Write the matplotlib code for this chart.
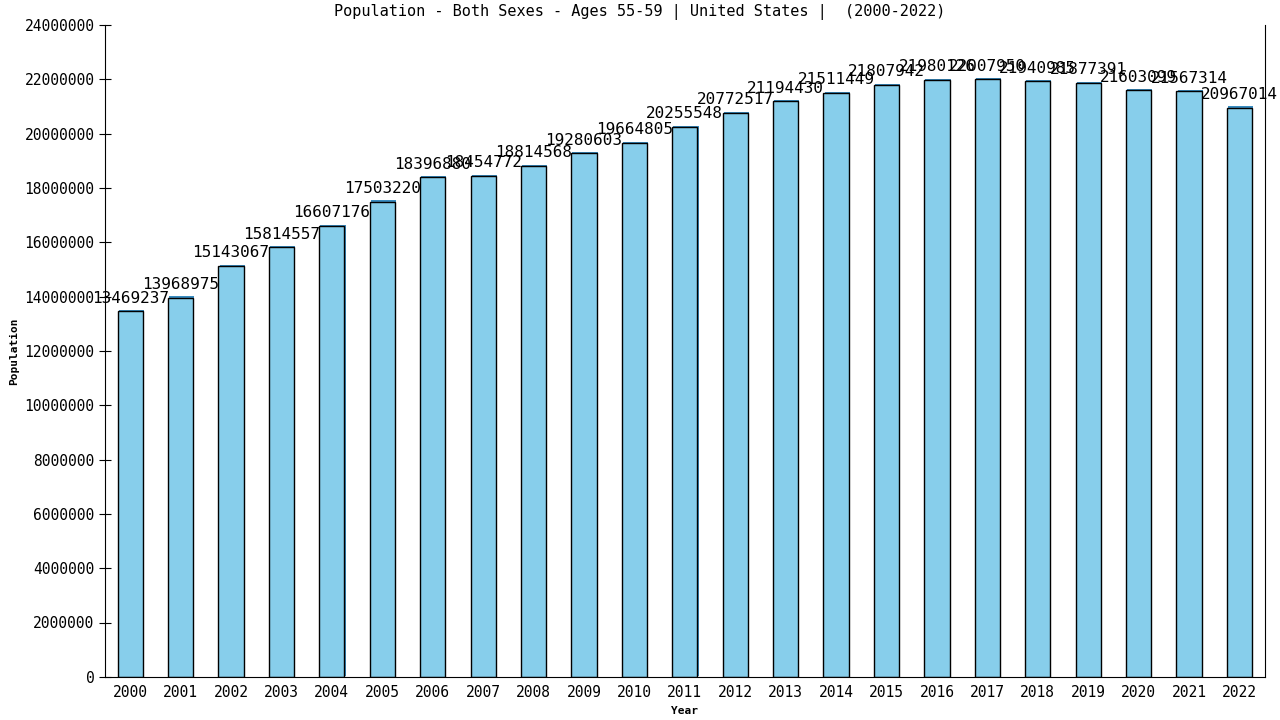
import matplotlib
matplotlib.use("Agg")
from matplotlib import pyplot as plt
import matplotlib.patheffects as pe

years = [str(y) for y in range(2000, 2023)]
population = [13469237, 13968975, 15143067, 15814557, 16607176, 17503220,
              18396880, 18454772, 18814568, 19280603, 19664805, 20255548,
              20772517, 21194430, 21511449, 21807942, 21980126, 22007950,
              21940985, 21877391, 21603099, 21567314, 20967014]
yticks = list(range(0, 24000001, 2000000))

plt.rcParams['font.family'] = ['DejaVu Sans Mono']

fig = plt.figure(figsize=(12.8, 7.2), dpi=100)
ax = fig.add_axes([0.082, 0.06, 0.906, 0.905])

x = list(range(len(years)))
bars = ax.bar(x, population, width=0.5, color='skyblue', edgecolor='black', linewidth=1)
for b in bars:
    b.set_path_effects([pe.SimplePatchShadow(offset=(0.8, 0.8), shadow_rgbFace='#3a8cc0', alpha=1),
                        pe.Normal()])

for xi, v in zip(x, population):
    ax.annotate(str(v), (xi, v), xytext=(0, 4), textcoords='offset points',
                ha='center', va='bottom', fontsize=11.5)

ax.set_xlim(-0.5, 22.5)
ax.set_ylim(0, 24000000)
ax.set_xticks(x)
ax.set_xticklabels(years, fontsize=10.5)
ax.set_yticks(yticks)
ax.set_yticklabels([str(t) for t in yticks], fontsize=10.5)
ax.tick_params(axis='x', length=0, pad=6)
ax.tick_params(axis='y', direction='inout', length=8)
ax.spines['top'].set_visible(False)

ax.set_xlabel('Year', fontsize=8, fontweight='bold', labelpad=4)
ax.set_ylabel('Population', fontsize=8, fontweight='bold')
fig.suptitle('Population - Both Sexes - Ages 55-59 | United States |  (2000-2022)',
             x=0.5, y=0.995, fontsize=11)

fig.savefig('out.png', dpi=100)
